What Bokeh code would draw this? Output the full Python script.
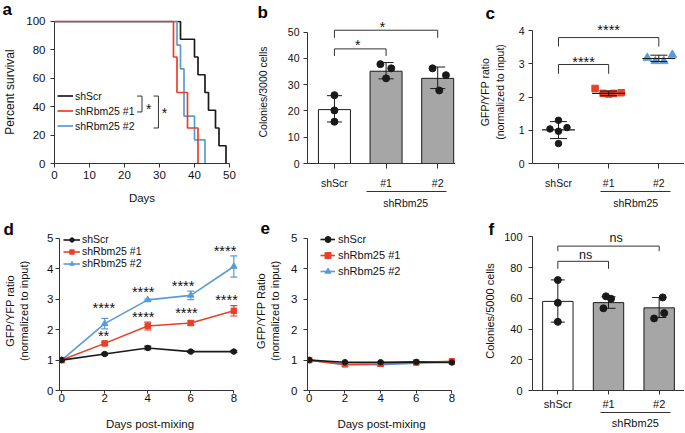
from bokeh.plotting import figure
from bokeh.layouts import column, row
from bokeh.models import (Range1d, FixedTicker, LinearAxis, Legend, LegendItem, Title,
                          Whisker, TeeHead, ColumnDataSource)
from bokeh.core.properties import value
from bokeh.embed import file_html
from bokeh.resources import INLINE

FONT = "Liberation Sans"
BLACK = "#1a1a1a"
RED = "#e8402a"
BLUE = "#5b9bd5"
GRAY = "#a6a6a6"
AX = "#333333"
TXT = "#111111"

# ---------------- data ----------------
# a: Kaplan-Meier survival
a_days_scr = [0, 36, 40, 41, 43, 44, 46, 47, 49]
a_surv_scr = [100, 87.5, 75, 62.5, 50, 37.5, 25, 12.5, 0]
a_days_r1 = [0, 34, 35, 38, 41]
a_surv_r1 = [100, 75, 50, 25, 0]
a_days_r2 = [0, 35, 36, 37, 40, 43]
a_surv_r2 = [100, 83.3, 66.7, 33.3, 16.7, 0]
a_xticks = [0, 10, 20, 30, 40, 50]
a_yticks = [0, 20, 40, 60, 80, 100]

# b: colonies / 3000 cells
grp_labels = {0: "shScr", 1: "#1", 2: "#2"}
b_means = [20.5, 35.1, 32.4]
b_lo = [15.8, 32.2, 28.5]
b_hi = [25.8, 38.4, 36.7]
b_pt_grp = [0, 0, 0, 1, 1, 1, 2, 2, 2]
b_pt_jit = [0, 0, 0, -0.11, 0.1, 0, -0.1, 0.16, 0.03]
b_pt_val = [26.0, 20.2, 15.9, 37.8, 36.2, 32.4, 36.2, 33.6, 27.8]
b_yticks = [0, 10, 20, 30, 40, 50]

# c: GFP/YFP ratio scatter
c_scr = [1.30, 1.04, 1.08, 0.97, 0.60]
c_scr_jit = [0, -0.17, 0.17, 0, 0]
c_r1 = [2.26, 2.11, 2.09, 2.11, 2.13]
c_r1_jit = [-0.27, -0.11, 0, 0.1, 0.25]
c_r2 = [3.18, 3.08, 3.08, 3.27]
c_r2_jit = [-0.23, -0.07, 0.1, 0.27]
c_means = [1.01, 2.11, 3.16]
c_lo = [0.75, 2.04, 3.07]
c_hi = [1.26, 2.18, 3.26]
c_yticks = [0, 1, 2, 3, 4]

# d: competition time course
d_days = [0, 2, 4, 6, 8]
d_scr = [1.00, 1.20, 1.40, 1.28, 1.28]
d_scr_err = [0, 0.03, 0.06, 0.03, 0.03]
d_r1 = [1.00, 1.55, 2.12, 2.22, 2.62]
d_r1_err = [0, 0.04, 0.13, 0.07, 0.17]
d_r2 = [1.00, 2.20, 2.98, 3.13, 4.08]
d_r2_err = [0, 0.17, 0.03, 0.14, 0.35]
d_star_x_r2 = [1.96, 3.79, 5.64, 7.59]
d_star_y_r2 = [2.81, 3.33, 3.52, 4.69]
d_star_t_r2 = ["****", "****", "****", "****"]
d_star_x_r1 = [1.95, 3.79, 5.80, 7.66]
d_star_y_r1 = [1.89, 2.51, 2.64, 3.08]
d_star_t_r1 = ["**", "****", "****", "****"]
d_yticks = [0, 1, 2, 3, 4, 5]
d_xticks = [0, 2, 4, 6, 8]

# e: control competition
e_scr = [1.00, 0.93, 0.93, 0.94, 0.92]
e_r1 = [1.00, 0.86, 0.88, 0.92, 0.96]
e_r2 = [1.00, 0.85, 0.85, 0.90, 0.93]

# f: colonies / 5000 cells
f_means = [58.0, 57.2, 53.8]
f_lo = [44.5, 53.5, 47.5]
f_hi = [72.0, 61.0, 60.5]
f_pt_grp = [0, 0, 0, 1, 1, 1, 2, 2, 2]
f_pt_jit = [0, 0, 0, -0.05, 0.05, -0.1, 0.07, 0.1, -0.1]
f_pt_val = [71.9, 57.1, 44.7, 61.3, 59.7, 53.5, 60.6, 50.4, 46.9]
f_yticks = [0, 20, 40, 60, 80, 100]


# ---------------- helpers ----------------
def base_fig(w, h, xr, yr, mb):
    p = figure(width=w, height=h, x_range=Range1d(*xr), y_range=Range1d(*yr),
               output_backend="svg", toolbar_location=None, title=None,
               min_border_left=mb[0], min_border_right=mb[1],
               min_border_top=mb[2], min_border_bottom=mb[3])
    p.outline_line_color = None
    p.grid.visible = False
    p.background_fill_color = "white"
    p.border_fill_color = "white"
    return p


def style_axis(ax, fs, lfs=None, tick_out=4, standoff=4, lstand=3):
    ax.axis_line_color = AX
    ax.axis_line_width = 1
    ax.major_tick_line_color = AX
    ax.major_tick_out = tick_out
    ax.major_tick_in = 0
    ax.minor_tick_line_color = None
    ax.major_label_text_font = FONT
    ax.major_label_text_font_size = fs
    ax.major_label_text_color = TXT
    ax.major_label_standoff = standoff
    ax.axis_label_text_font = FONT
    ax.axis_label_text_font_style = "normal"
    ax.axis_label_text_font_size = lfs or fs
    ax.axis_label_text_color = TXT
    ax.axis_label_standoff = lstand


def letter(p, ch, offset, standoff):
    p.title = Title(text=ch, align="left", vertical_align="top", offset=offset,
                    standoff=standoff, text_font=FONT, text_font_size="17px",
                    text_font_style="bold", text_color="#000000")


def group_axis(p, bounds, pos, fs, standoff):
    ax = LinearAxis(bounds=bounds, ticker=FixedTicker(ticks=[pos]),
                    major_label_overrides={pos: "shRbm25"})
    style_axis(ax, fs, tick_out=0, standoff=standoff)
    p.add_layout(ax, "below")
    return ax


def whisk(p, xs, lo, hi, color, size, width=1):
    src = ColumnDataSource(dict(x=xs, lo=lo, hi=hi))
    w = Whisker(source=src, base="x", lower="lo", upper="hi", dimension="height",
                line_color=color, line_width=width,
                upper_head=TeeHead(size=size, line_color=color, line_width=width),
                lower_head=TeeHead(size=size, line_color=color, line_width=width))
    w.level = "annotation"
    p.add_layout(w)


def stars(p, xs, ys, ts, fs="14.5px", dy=3):
    p.text(x=xs, y=ys, text=ts, text_font=value(FONT), text_font_size=fs,
           text_align="center", text_baseline="middle", text_color=TXT, y_offset=dy)


def brackets(p, xs, ys):
    p.multi_line(xs=xs, ys=ys, line_color=AX, line_width=1)


def make_legend(items, loc, gw, gh, stand, fs):
    return Legend(items=items, location=loc, background_fill_alpha=0, border_line_color=None,
                  padding=0, margin=0, spacing=0, glyph_width=gw, glyph_height=gh,
                  label_height=gh, label_standoff=stand, label_text_font=FONT,
                  label_text_font_size=fs, label_text_color=TXT)


# ---------------- panel a ----------------
pa = base_fig(240, 215, (0, 50), (0, 100.7), (51, 11, 20, 52))
ra_scr = pa.step(a_days_scr, a_surv_scr, mode="after", line_color=BLACK, line_width=1.7)
ra_r2 = pa.step(a_days_r2, a_surv_r2, mode="after", line_color=BLUE, line_width=1.7)
ra_r1 = pa.step(a_days_r1, a_surv_r1, mode="after", line_color=RED, line_width=1.7)
pa.xaxis.ticker = FixedTicker(ticks=a_xticks)
pa.yaxis.ticker = FixedTicker(ticks=a_yticks)
pa.yaxis.bounds = (0, 100)
pa.xaxis.axis_label = "Days"
pa.yaxis.axis_label = "Percent survival"
style_axis(pa.xaxis[0], "11.5px", "11.5px", standoff=3, lstand=10)
style_axis(pa.yaxis[0], "11.5px", "12px", standoff=5, lstand=6)
pa.add_layout(make_legend([LegendItem(label="shScr", renderers=[ra_scr]),
                           LegendItem(label="shRbm25 #1", renderers=[ra_r1]),
                           LegendItem(label="shRbm25 #2", renderers=[ra_r2])],
                          (3, 30), 16, 15, 2, "10.5px"))
brackets(pa, [[23.6, 25.0, 25.0, 23.6], [28.3, 29.7, 29.7, 28.3]],
         [[47.5, 47.5, 36.3, 36.3], [47.5, 47.5, 25.0, 25.0]])
stars(pa, [26.9, 31.4], [40.8, 38.0], ["*", "*"], fs="14px")
letter(pa, "a", -52, -1)

# ---------------- panel b ----------------
pb = base_fig(215, 215, (-0.522, 2.345), (0, 54.4), (67, 0, 14, 52))
pb.vbar(x=[0, 1, 2], top=b_means, width=0.62, fill_color=["white", GRAY, GRAY],
        line_color=BLACK, line_width=1)
whisk(pb, [0, 1, 2], b_lo, b_hi, BLACK, 15)
pb.scatter(x=[g + j for g, j in zip(b_pt_grp, b_pt_jit)], y=b_pt_val, marker="circle",
           size=7, fill_color=BLACK, line_color=BLACK)
pb.xaxis.ticker = FixedTicker(ticks=[0, 1, 2])
pb.xaxis.major_label_overrides = grp_labels
pb.yaxis.ticker = FixedTicker(ticks=b_yticks)
pb.yaxis.bounds = (0, 50)
pb.yaxis.axis_label = "Colonies/3000 cells"
style_axis(pb.xaxis[0], "10.5px", standoff=8, tick_out=5)
style_axis(pb.yaxis[0], "10.5px", "10.5px", standoff=4, lstand=16)
group_axis(pb, (0.63, 2.18), 1.38, "10.5px", 5)
brackets(pb, [[0, 0, 2, 2], [0, 0, 1, 1]],
         [[47.8, 50.7, 50.7, 47.8], [40.9, 43.6, 43.6, 40.9]])
stars(pb, [0.93, 0.45], [53.0, 46.4], ["*", "*"], fs="14px")
letter(pb, "b", -50, -7)

# ---------------- panel c ----------------
pc = base_fig(229, 215, (-0.518, 2.512), (0, 4.304), (77, 0, 12, 52))
whisk(pc, [0, 1, 2], c_lo, c_hi, BLACK, 17)
pc.scatter(x=[0 + j for j in c_scr_jit], y=c_scr, marker="circle", size=6.5,
           fill_color=BLACK, line_color=BLACK)
pc.scatter(x=[1 + j for j in c_r1_jit], y=c_r1, marker="square", size=6.5,
           fill_color=RED, line_color=RED)
pc.scatter(x=[2 + j for j in c_r2_jit], y=c_r2, marker="triangle", size=8.5,
           fill_color=BLUE, line_color=BLUE)
pc.scatter(x=[0, 1, 2], y=c_means, marker="dash", size=33, line_color=BLACK, line_width=1.2)
pc.xaxis.ticker = FixedTicker(ticks=[0, 1, 2])
pc.xaxis.major_label_overrides = grp_labels
pc.yaxis.ticker = FixedTicker(ticks=c_yticks)
pc.yaxis.bounds = (0, 4)
pc.yaxis.axis_label = "GFP/YFP ratio\n(normalized to input)"
style_axis(pc.xaxis[0], "10.5px", standoff=8, tick_out=5)
style_axis(pc.yaxis[0], "10.5px", "10.5px", standoff=4, lstand=10)
group_axis(pc, (0.84, 2.23), 1.54, "10.5px", 5)
brackets(pc, [[0, 0, 2, 2], [0, 0, 1, 1]],
         [[3.52, 3.79, 3.79, 3.52], [2.70, 2.98, 2.98, 2.70]])
stars(pc, [1.0, 0.5], [4.10, 3.16], ["****", "****"])
letter(pc, "c", -47, -9)

# ---------------- panel d ----------------
pd_ = base_fig(240, 217, (-0.1, 8.31), (0, 5.23), (51, 0, 16, 42))
series_d = [(d_r2, d_r2_err, BLUE, "triangle", 6.5),
            (d_r1, d_r1_err, RED, "square", 5.5),
            (d_scr, d_scr_err, BLACK, "circle", 5.5)]
rend_d = []
for vals, err, col, mk, sz in series_d:
    idx = [i for i, e in enumerate(err) if e > 0]
    whisk(pd_, [d_days[i] for i in idx], [vals[i] - err[i] for i in idx],
          [vals[i] + err[i] for i in idx], col, 7, 1.2)
    rl = pd_.line(d_days, vals, line_color=col, line_width=1.6)
    rs = pd_.scatter(d_days, vals, marker=mk, size=sz, fill_color=col, line_color=col)
    rend_d.append([rl, rs])
stars(pd_, d_star_x_r2, d_star_y_r2, d_star_t_r2)
stars(pd_, d_star_x_r1, d_star_y_r1, d_star_t_r1)
pd_.xaxis.ticker = FixedTicker(ticks=d_xticks)
pd_.xaxis.bounds = (-0.1, 8)
pd_.yaxis.ticker = FixedTicker(ticks=d_yticks)
pd_.yaxis.bounds = (0, 5)
pd_.xaxis.axis_label = "Days post-mixing"
pd_.yaxis.axis_label = "GFP/YFP ratio\n(normalized to input)"
style_axis(pd_.xaxis[0], "11.5px", "11.5px", tick_out=3, standoff=0, lstand=13)
style_axis(pd_.yaxis[0], "11.5px", "11px", standoff=2, lstand=14)
pd_.add_layout(make_legend([LegendItem(label="shScr", renderers=rend_d[2]),
                            LegendItem(label="shRbm25 #1", renderers=rend_d[1]),
                            LegendItem(label="shRbm25 #2", renderers=rend_d[0])],
                           (4, 121), 17, 11, 2, "10.5px"))
letter(pd_, "d", -56, -19)

# ---------------- panel e ----------------
pe = base_fig(215, 217, (-0.1, 8.2), (0, 5.23), (67, 0, 16, 42))
series_e = [(e_r2, BLUE, "triangle", 6), (e_r1, RED, "square", 5.5), (e_scr, BLACK, "circle", 5.5)]
rend_e = []
for vals, col, mk, sz in series_e:
    rl = pe.line(d_days, vals, line_color=col, line_width=1.6)
    rs = pe.scatter(d_days, vals, marker=mk, size=sz, fill_color=col, line_color=col)
    rend_e.append([rl, rs])
pe.xaxis.ticker = FixedTicker(ticks=d_xticks)
pe.xaxis.bounds = (-0.1, 8)
pe.yaxis.ticker = FixedTicker(ticks=d_yticks)
pe.yaxis.bounds = (0, 5)
pe.xaxis.axis_label = "Days post-mixing"
pe.yaxis.axis_label = "GFP/YFP Ratio\n(normalized to input)"
style_axis(pe.xaxis[0], "11.5px", "11.5px", tick_out=3, standoff=0, lstand=13)
style_axis(pe.yaxis[0], "11.5px", "11px", standoff=6, lstand=7)
pe.add_layout(make_legend([LegendItem(label="shScr", renderers=rend_e[2]),
                           LegendItem(label="shRbm25 #1", renderers=rend_e[1]),
                           LegendItem(label="shRbm25 #2", renderers=rend_e[0])],
                          (13, 111), 15, 16, 3, "11px"))
letter(pe, "e", -47, -19)

# ---------------- panel f ----------------
pf = base_fig(229, 217, (-0.5, 2.5), (0, 103.5), (77, 0, 16, 42))
pf.vbar(x=[0, 1, 2], top=f_means, width=0.6, fill_color=["white", GRAY, GRAY],
        line_color=BLACK, line_width=1)
whisk(pf, [0, 1, 2], f_lo, f_hi, BLACK, 14)
pf.scatter(x=[g + j for g, j in zip(f_pt_grp, f_pt_jit)], y=f_pt_val, marker="circle",
           size=7, fill_color=BLACK, line_color=BLACK)
pf.xaxis.ticker = FixedTicker(ticks=[0, 1, 2])
pf.xaxis.major_label_overrides = grp_labels
pf.yaxis.ticker = FixedTicker(ticks=f_yticks)
pf.yaxis.bounds = (0, 100)
pf.yaxis.axis_label = "Colonies/5000 cells"
style_axis(pf.xaxis[0], "11px", standoff=3, tick_out=4)
style_axis(pf.yaxis[0], "11px", "11px", standoff=6, lstand=5)
group_axis(pf, (0.84, 2.22), 1.53, "11px", 4)
brackets(pf, [[0, 0, 2, 2], [0, 0, 1, 1]],
         [[90.7, 94.0, 94.0, 90.7], [79.2, 84.1, 84.1, 79.2]])
pf.text(x=[1.15, 0.55], y=[99.1, 88.5], text=["ns", "ns"], text_font=value(FONT),
        text_font_size="12.5px", text_align="center", text_baseline="middle", text_color=TXT)
letter(pf, "f", -44, -19)

layout = column(row(pa, pb, pc), row(pd_, pe, pf))
open("out.html", "w").write(file_html(layout, INLINE))
